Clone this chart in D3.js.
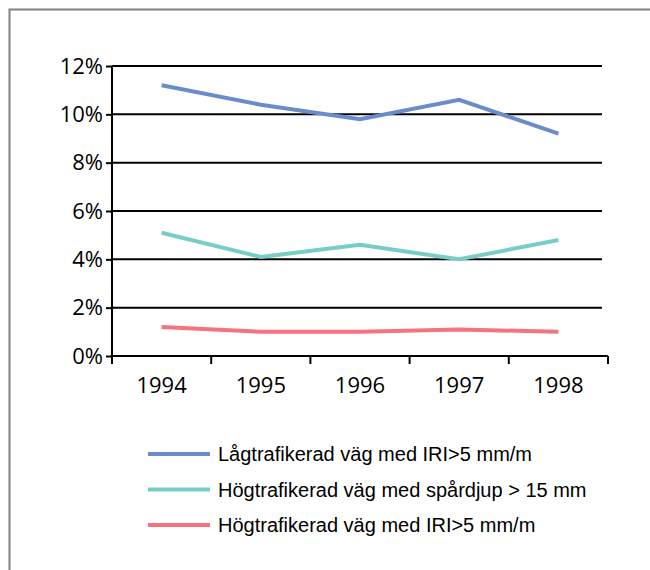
<!DOCTYPE html>
<html><head><meta charset="utf-8">
<script src="https://cdn.jsdelivr.net/npm/d3@7"></script>
<style>html,body{margin:0;padding:0;background:#fff;}svg{display:block;}</style>
</head><body>
<svg id="c" width="650" height="570"></svg>
<script>
const years = ["1994","1995","1996","1997","1998"];
const lowIRI = [11.2, 10.4, 9.8, 10.6, 9.2];
const highRut = [5.1, 4.1, 4.6, 4.0, 4.8];
const highIRI = [1.2, 1.0, 1.0, 1.1, 1.0];
const seriesNames = ["Lågtrafikerad väg med IRI>5 mm/m","Högtrafikerad väg med spårdjup > 15 mm","Högtrafikerad väg med IRI>5 mm/m"];
const seriesColors = ["#6b8ccb","#78cdc8","#f4737f"];
const yTicks = [0,2,4,6,8,10,12];

const series = [lowIRI, highRut, highIRI];
const svg = d3.select("#c");

// outer frame (top and left edges visible)
svg.append("path").attr("d","M9.5,570 L9.5,9.5 L650,9.5").attr("fill","none").attr("stroke","#808080").attr("stroke-width",2);

const x = d3.scaleBand().domain(years).range([112, 608]);
const y = d3.scaleLinear().domain([0,12]).range([356, 66]);

// gridlines
svg.append("g").selectAll("line").data(yTicks.filter(d=>d>0)).join("line")
  .attr("x1",112).attr("x2",602).attr("y1",d=>y(d)).attr("y2",d=>y(d))
  .attr("stroke","#000").attr("stroke-width",2);

// y axis
const yAxis = svg.append("g").attr("transform","translate(112,0)")
  .call(d3.axisLeft(y).tickValues(yTicks).tickFormat(d=>d+"%").tickSize(6).tickPadding(3));
yAxis.select(".domain").attr("stroke","#000").attr("stroke-width",2).attr("d","M-0,66V356");
yAxis.selectAll(".tick line").attr("stroke","#000").attr("stroke-width",2);
yAxis.selectAll(".tick text").attr("font-family","'Open Sans', sans-serif").attr("font-size","22px").attr("fill","#000");

// x axis
const xAxis = svg.append("g").attr("transform","translate(0,356)")
  .call(d3.axisBottom(x).tickSize(0).tickPadding(21));
xAxis.select(".domain").attr("stroke","#000").attr("stroke-width",2).attr("d","M112,0H608");
xAxis.selectAll(".tick text").attr("font-family","'Open Sans', sans-serif").attr("font-size","22px").attr("fill","#000");
const bounds = years.map(d=>x(d)+x.bandwidth());
svg.append("g").selectAll("line").data(bounds).join("line")
  .attr("x1",d=>d).attr("x2",d=>d).attr("y1",356).attr("y2",364)
  .attr("stroke","#000").attr("stroke-width",2);
svg.append("line").attr("x1",112).attr("x2",112).attr("y1",356).attr("y2",364).attr("stroke","#000").attr("stroke-width",2);

// lines
const line = d3.line().x((d,i)=>x(years[i])+x.bandwidth()/2).y(d=>y(d));
svg.append("g").selectAll("path").data(series).join("path")
  .attr("d",line).attr("fill","none")
  .attr("stroke",(d,i)=>seriesColors[i]).attr("stroke-width",4).attr("stroke-linejoin","miter");

// legend
const lg = svg.append("g").selectAll("g").data(seriesNames).join("g")
  .attr("transform",(d,i)=>`translate(148,${454+i*35.5})`);
lg.append("line").attr("x1",0).attr("x2",62).attr("y1",0).attr("y2",0)
  .attr("stroke",(d,i)=>seriesColors[i]).attr("stroke-width",4);
lg.append("text").attr("x",70).attr("y",0).attr("dy","0.35em")
  .attr("font-family","'Liberation Sans', Arial, sans-serif").attr("font-size","20px").attr("fill","#000")
  .text(d=>d);
</script>
</body></html>
